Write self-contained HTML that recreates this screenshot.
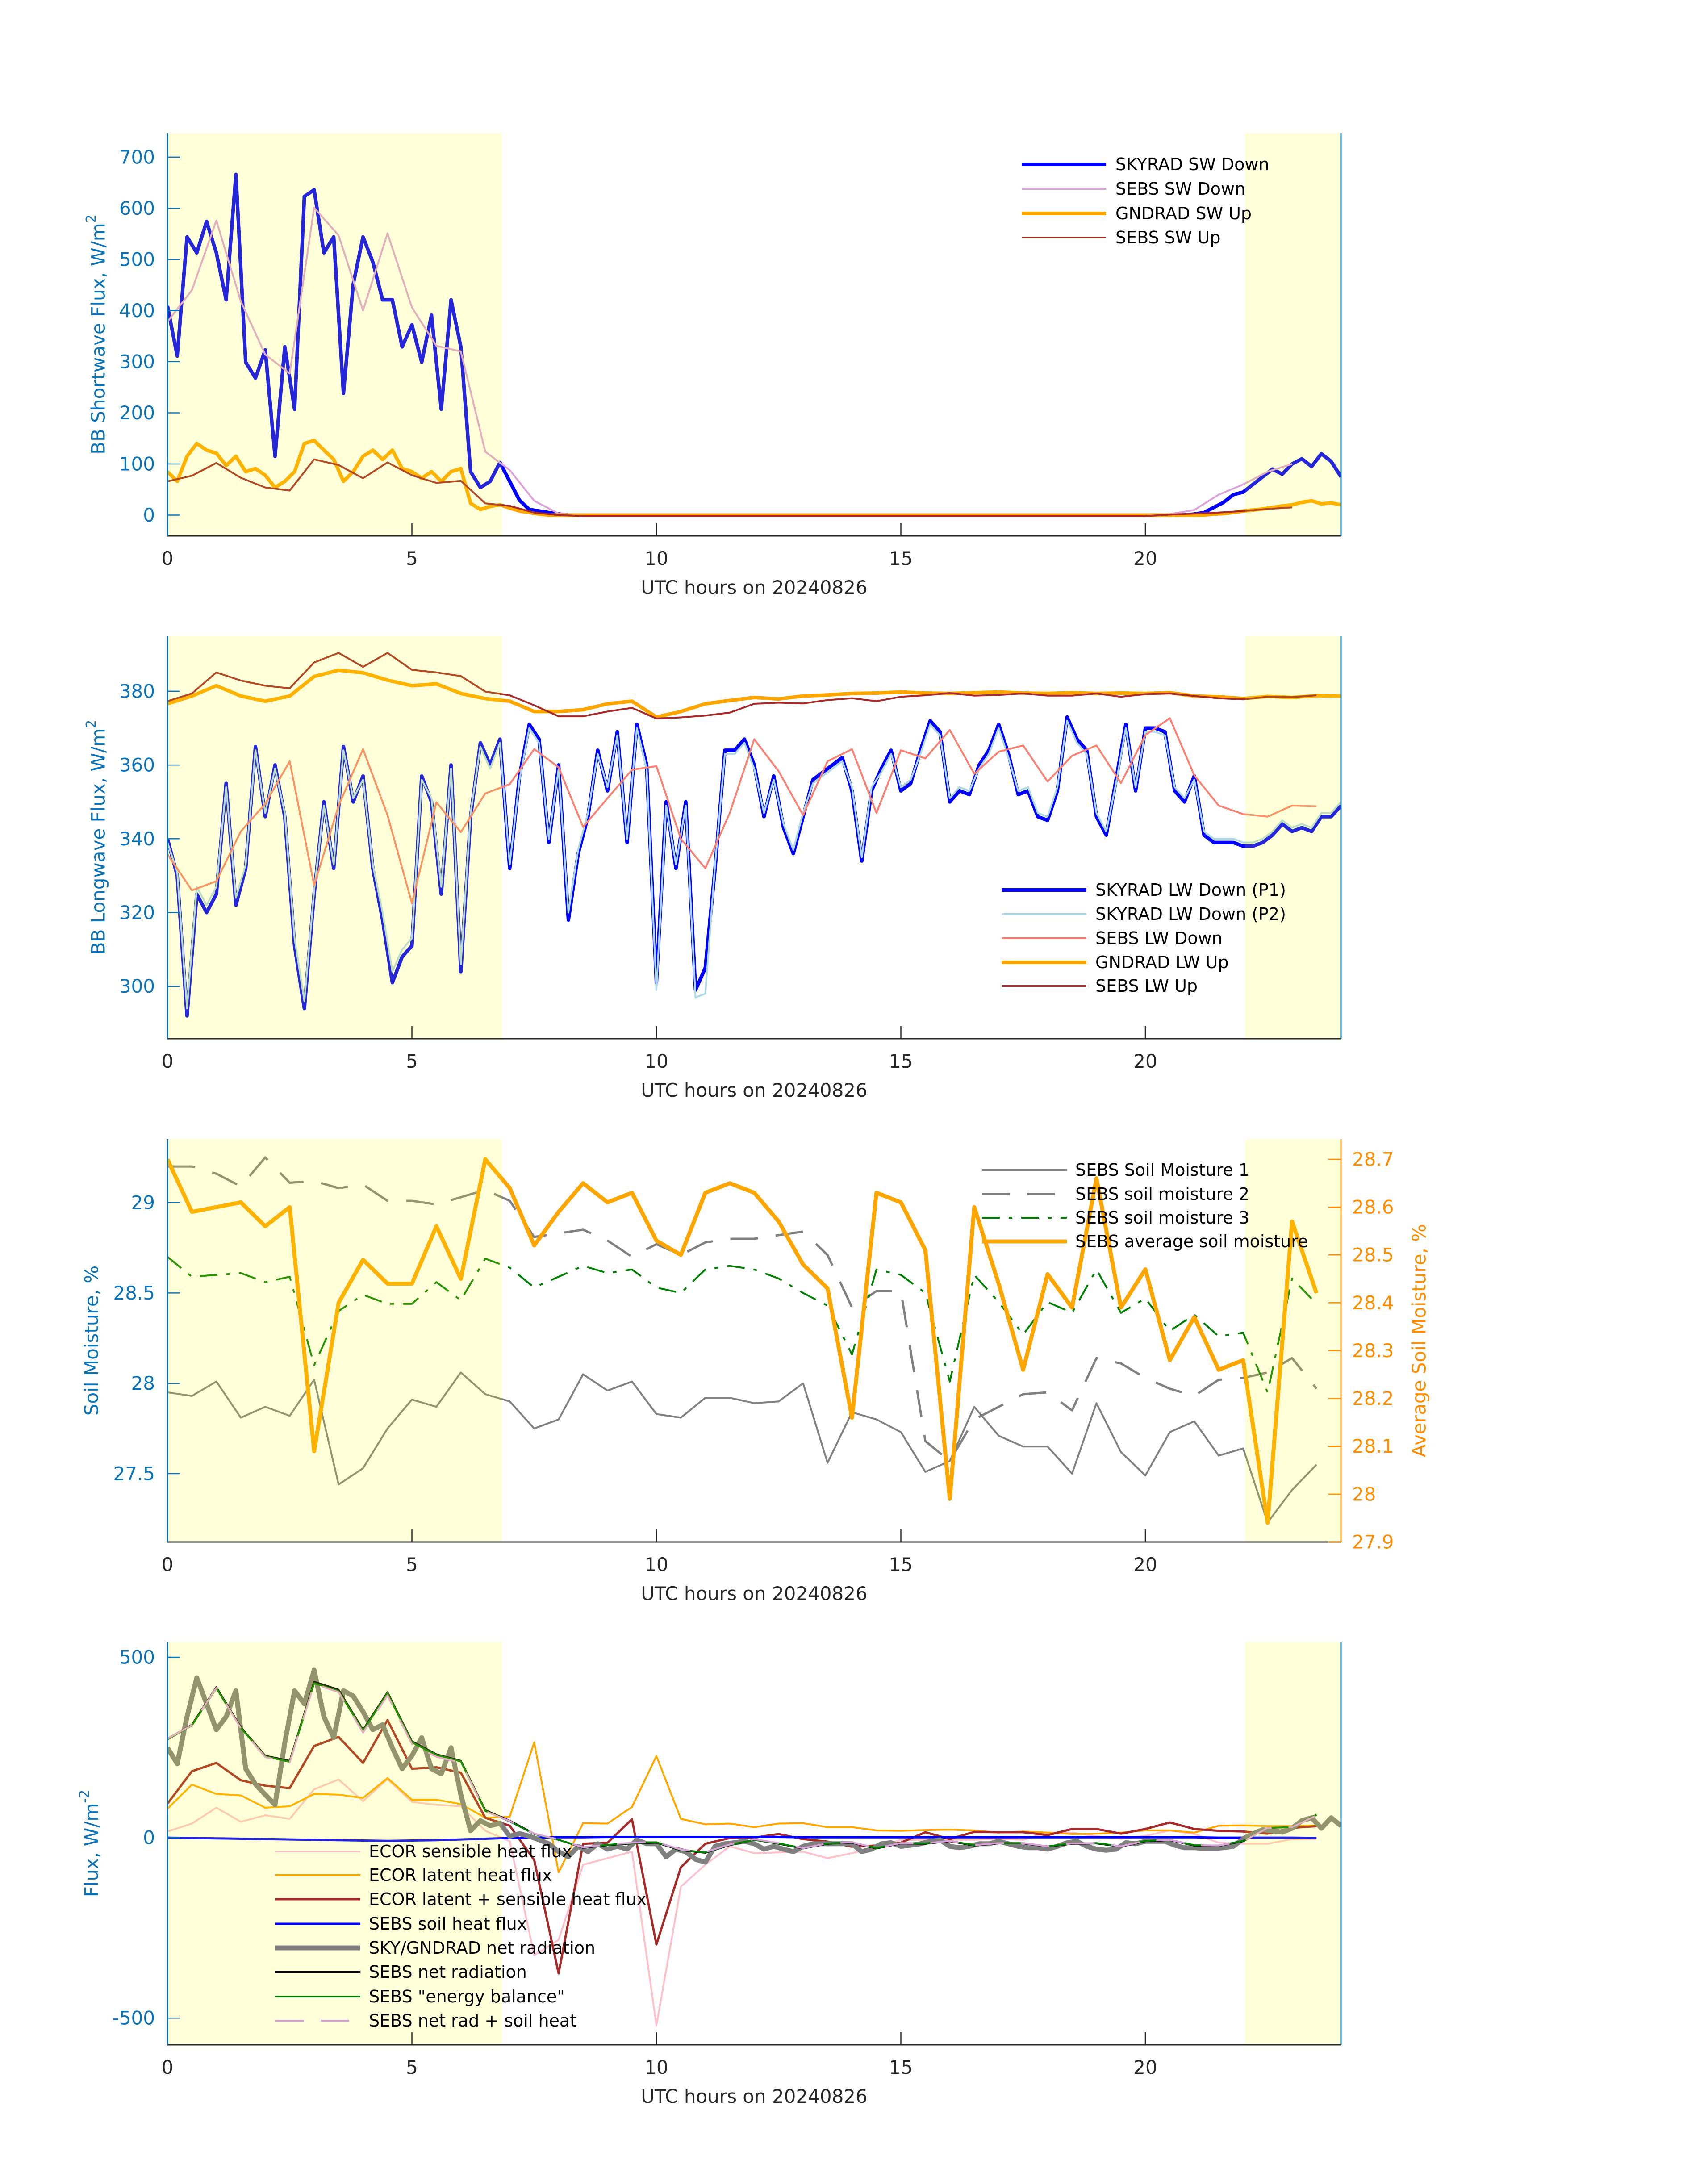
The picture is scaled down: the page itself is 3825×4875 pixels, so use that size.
<!DOCTYPE html>
<html><head><meta charset="utf-8"><style>
html,body{margin:0;padding:0;background:#fff;}
svg{display:block;font-family:"DejaVu Sans","Liberation Sans",sans-serif;}
</style></head>
<body>
<svg id="chart" xmlns="http://www.w3.org/2000/svg" width="3825" height="4875" viewBox="0 0 3825 4875">
<rect x="0" y="0" width="3825" height="4875" fill="#ffffff"/>
</svg>
<script>
// ---------- data ----------
const xTicks = [0,5,10,15,20];
const xTickLabels = ["0","5","10","15","20"];
const shadeStart = [0, 22.04];
const shadeEnd = [6.84, 24];
const fineStep = 0.2;
const halfStep = 0.5;

// Panel 1 (shortwave)
const p1Ticks = [0,100,200,300,400,500,600,700];
const swDownSky = [409,311,544,513,574,513,421,666,299,268,323,115,329,207,623,636,513,544,238,452,544,495,421,421,329,372,299,391,207,421,329,85,54,66,103,66,29,11,8,5,2,
0,0,0,0,0,0,0,0,0,0,0,0,0,0,0,0,
0,0,0,0,0,0,0,0,0,0,0,0,0,0,0,0,
0,0,0,0,0,0,0,0,0,0,0,0,0,0,0,0,
0,0,0,0,0,0,0,0,0,0,0,0,0,0,0,0,
2,5,15,25,40,45,60,75,90,80,100,110,95,120,105,75];
const swDownSebs = [378,440,576,418,314,277,601,547,400,551,406,331,320,124,88,28,3,
0,0,0,0,0,0,0,0,0,0,0,0,0,0,0,0,0,0,0,0,0,0,0,0,
2,10,40,60,85,100];
const swUpGnd = [85,66,115,140,127,121,97,115,85,91,78,54,66,85,140,146,127,109,66,85,115,127,109,127,91,85,72,85,66,85,91,23,11,17,20,14,8,5,2,
0,0,0,0,0,0,0,0,0,0,0,0,0,0,0,0,0,
0,0,0,0,0,0,0,0,0,0,0,0,0,0,0,0,0,
0,0,0,0,0,0,0,0,0,0,0,0,0,0,0,0,0,
0,0,0,0,0,0,0,0,0,0,0,0,0,0,0,0,0,
2,3,5,8,10,12,15,18,20,25,28,22,24,20];
const swUpSebs = [66,77,102,73,54,48,109,98,72,103,78,63,67,23,18,5,0,
-2,-2,-2,-2,-2,-2,-2,-2,-2,-2,-2,-2,-2,-2,-2,-2,-2,-2,-2,-2,-2,-2,-2,-2,
1,3,5,8,12,15];

// Panel 2 (longwave)
const p2Ticks = [300,320,340,360,380];
const lwDownP1 = [340,330,292,325,320,325,355,322,332,365,346,360,346,311,294,325,350,332,365,350,357,332,318,301,308,311,357,350,325,360,304,346,366,360,367,332,357,371,367,339,360,318,336,346,364,353,369,339,371,360,301,350,332,350,299,305,332,364,364,367,360,
346,357,343,336,346,356,358,360,362,353,334,353,359,364,353,355,364,372,369,350,353,352,360,364,371,363,352,353,346,345,353,373,367,364,346,341,356,371,353,370,370,369,353,350,357,341,339,339,339,338,338,339,341,344,342,343,342,346,346,349];
const lwDownP2 = [339,331,294,327,322,327,354,324,333,364,347,359,347,313,296,326,349,333,364,351,356,333,320,304,310,313,356,351,327,359,306,347,365,359,366,333,356,370,366,340,359,320,337,347,363,354,368,340,370,359,299,349,333,349,297,298,333,363,363,366,359,
347,356,344,337,347,355,357,359,361,354,335,354,358,363,354,356,363,371,368,351,354,353,359,363,370,362,353,354,347,346,354,372,366,363,347,342,355,370,354,369,369,368,354,351,356,342,340,340,340,339,339,340,342,345,343,344,343,347,347,350];
const lwDownSebs = [335.8,326,328.5,342,349.5,361,327.4,349,364.3,346.4,322.5,349.9,341.8,352.3,354.8,364.3,359.4,343.2,351,358.7,359.7,340,332,347,367,358.3,346.4,361,364.3,347,364,361.8,369.5,357.6,363.6,365.3,355.5,362.5,365.3,355.1,368.1,372.7,357.2,349,346.7,346,349,348.8];
const lwUpGnd = [376.6,378.7,381.5,378.7,377.3,378.7,384,385.7,385,383,381.5,382,379.4,378,377.3,374.5,374.5,375,376.6,377.3,373,374.5,376.6,377.5,378.3,377.9,378.7,379,379.4,379.5,379.8,379.5,379.4,379.6,379.8,379.5,379.4,379.6,379.4,379.5,379.4,379.6,378.7,378.5,378,378.6,378.3,378.8,378.7];
const lwUpSebs = [377.3,379.4,385.1,382.9,381.5,380.8,387.8,390.4,386.6,390.4,385.8,385.1,384.1,379.9,378.9,376.2,373.2,373.2,374.5,375.5,372.6,372.9,373.4,374.2,376.6,376.9,376.7,377.6,378.1,377.3,378.5,378.9,379.5,378.8,379,379.4,378.8,378.8,379.4,378.5,379.2,379.4,378.7,378.1,377.8,378.5,378.4,378.9];

// Panel 3 (soil moisture)
const p3LeftTicks = [27.5,28,28.5,29];
const p3LeftLabels = ["27.5","28","28.5","29"];
const p3RightTicks = [27.9,28,28.1,28.2,28.3,28.4,28.5,28.6,28.7];
const p3RightLabels = ["27.9","28","28.1","28.2","28.3","28.4","28.5","28.6","28.7"];
const soil1 = [27.95,27.93,28.01,27.81,27.87,27.82,28.02,27.44,27.53,27.75,27.91,27.87,28.06,27.94,27.90,27.75,27.80,28.05,27.96,28.01,27.83,27.81,27.92,27.92,
27.89,27.90,28.0,27.56,27.84,27.80,27.73,27.51,27.57,27.87,27.71,27.65,27.65,27.50,27.89,27.62,27.49,27.73,27.79,27.60,27.64,27.23,27.41,27.55];
const soil2 = [29.2,29.2,29.16,29.09,29.25,29.11,29.12,29.08,29.1,29.01,29.01,28.99,29.03,29.07,29.01,28.81,28.83,28.85,28.79,28.70,28.77,28.71,28.78,28.80,
28.8,28.82,28.84,28.71,28.42,28.51,28.51,27.68,27.57,27.80,27.87,27.94,27.95,27.85,28.14,28.11,28.03,27.97,27.93,28.02,28.03,28.06,28.14,27.97];
const soil3 = [28.7,28.59,28.60,28.61,28.56,28.59,28.10,28.40,28.49,28.44,28.44,28.56,28.46,28.69,28.64,28.53,28.59,28.65,28.61,28.63,28.53,28.50,28.63,28.65,
28.63,28.58,28.50,28.43,28.16,28.63,28.60,28.50,28.01,28.6,28.45,28.27,28.45,28.39,28.63,28.39,28.47,28.29,28.38,28.26,28.28,27.95,28.58,28.44];
const soilAvg = [28.70,28.59,28.60,28.61,28.56,28.60,28.09,28.40,28.49,28.44,28.44,28.56,28.45,28.70,28.64,28.52,28.59,28.65,28.61,28.63,28.53,28.50,28.63,28.65,
28.63,28.57,28.48,28.43,28.16,28.63,28.61,28.51,27.99,28.60,28.44,28.26,28.46,28.39,28.66,28.39,28.47,28.28,28.37,28.26,28.28,27.94,28.57,28.42];

// Panel 4 (fluxes)
const p4Ticks = [-500,0,500];
const p4Labels = ["-500","0","500"];
const ecorSens = [17,39,83,44,62,52,134,161,101,162,99,91,87,19,-10,-326,-283,-75,-57,-39,-520,-136,-75,-24,-43,
-41,-39,-57,-43,-29,-6,-6,-6,-6,-3,-6,14,14,4,-3,5,20,10,-14,-17,-17,-4,-4];
const ecorLat = [80,147,121,117,83,87,121,119,110,165,105,105,93,55,58,264,-96,40,39,85,226,52,37,39,29,
39,40,29,29,20,19,21,22,20,14,17,14,10,11,14,20,20,14,33,34,32,32,34];
const ecorSum = [94,184,207,159,144,137,254,279,207,326,191,195,180,55,33,-62,-376,-17,-14,51,-296,-82,-17,-1,0,
10,-4,-11,-25,-22,-14,15,-4,16,15,15,7,24,24,11,24,42,24,19,17,11,27,32];
const soilHeat = [0,-1,-2,-3,-4,-5,-6,-7,-8,-9,-8,-7,-5,-3,-1,0,1,1,2,2,2,2,2,2,2,2,1,1,1,1,1,1,1,1,1,1,1,1,1,1,1,1,1,0,0,0,0,-1];
const netRadSkyGnd = [249,205,335,443,371,299,335,407,191,148,119,91,263,407,371,464,335,277,407,392,349,299,313,249,191,227,277,191,177,249,119,19,47,33,40,4,11,4,-6,-17,-39,-53,-24,-39,-17,-32,-24,-32,-6,-17,-17,-53,-32,-39,-60,-68,-24,-17,-14,-10,-17,
-32,-24,-32,-39,-24,-17,-17,-17,-17,-17,-39,-32,-17,-14,-24,-21,-17,-10,-6,-24,-28,-24,-17,-17,-10,-17,-24,-28,-28,-32,-24,-14,-10,-24,-32,-35,-32,-14,-17,-10,-10,-10,-21,-28,-28,-30,-30,-28,-24,-3,11,22,19,15,26,47,55,26,55,33];
const netRadSebs = [274,313,417,306,227,213,432,410,299,403,267,231,213,76,47,11,-6,-28,-21,-16,-14,-35,-42,-21,-6,
-17,-30,-17,-14,-30,-16,-17,-10,-22,-16,-16,-25,-17,-16,-25,-10,-7,-22,-23,-10,27,29,63];
const energyBal = [272,311,414,304,225,210,428,406,296,400,264,229,211,74,45,10,-6,-27,-20,-15,-13,-34,-41,-20,-6,
-16,-29,-16,-13,-29,-15,-16,-9,-21,-15,-15,-24,-16,-15,-24,-9,-6,-21,-22,-9,27,29,64];
const netPlusSoil = [274,312,415,303,223,208,426,403,291,394,259,224,208,73,46,11,-5,-27,-19,-14,-12,-33,-40,-19,-4,
-15,-29,-16,-13,-29,-15,-16,-9,-21,-15,-15,-24,-16,-15,-24,-9,-6,-21,-22,-10,27,29,62];

// ---------- geometry ----------
const SVGNS = "http://www.w3.org/2000/svg";
const svg = document.getElementById('chart');
const X0 = 375, X1 = 3003;
function xScale(h){ return X0 + h*(X1-X0)/24; }
const panels = [
  {top:298, bot:1200, ymin:-40.6, ymax:747},
  {top:1424, bot:2326, ymin:285.8, ymax:395.0},
  {top:2551, bot:3453, ymin:27.122, ymax:29.351},
  {top:3677, bot:4579, ymin:-574, ymax:542}
];
const p3Right = {top:2551, bot:3453, ymin:27.9, ymax:28.742};
function yScale(p, v){ return p.bot - (v - p.ymin)/(p.ymax - p.ymin)*(p.bot - p.top); }
const BLUE = "#0b72b8", DARK = "#262626", ORANGE_AX = "#ff8c00";

function mk(tag, attrs, parent){
  const e = document.createElementNS(SVGNS, tag);
  for (const k in attrs) e.setAttribute(k, attrs[k]);
  (parent || svg).appendChild(e);
  return e;
}
function series(p, vals, step, style, name, clipId){
  let d = "";
  vals.forEach((v,i)=>{ d += (i? "L":"M") + xScale(i*step).toFixed(1) + "," + yScale(p, v).toFixed(1); });
  const el = mk('path', Object.assign({d:d, fill:"none", "stroke-linejoin":"round", "clip-path":"url(#"+clipId+")"}, style));
  
  
  return el;
}
function text(x, y, str, attrs, name){
  const t = mk('text', Object.assign({x:x, y:y}, attrs));
  t.textContent = str;
  
  
  return t;
}

const defs = mk('defs', {});
panels.forEach((p, k)=>{
  const cp = mk('clipPath', {id:'clip'+k}, defs);
  mk('rect', {x:X0, y:p.top, width:X1-X0, height:p.bot-p.top}, cp);
});

function shading(p, k){
  shadeStart.forEach((s, i)=>{
    const r = mk('rect', {x:xScale(s), y:p.top, width:xScale(shadeEnd[i])-xScale(s), height:p.bot-p.top, fill:"rgba(255,255,0,0.15)"});
    
    
  });
}

function xAxis(p, k){
  const ax = mk('line', {x1:X0, y1:p.bot, x2:X1, y2:p.bot, stroke:DARK, "stroke-width":3});
  
  
  xTicks.forEach((t,i)=>{
    const tk = mk('line', {x1:xScale(t), y1:p.bot, x2:xScale(t), y2:p.bot-28, stroke:DARK, "stroke-width":2.5});
    
    
    text(xScale(t), p.bot+65, xTickLabels[i], {"font-size":42, fill:DARK, "text-anchor":"middle"}, 'x-tick-label');
  });
  text((X0+X1)/2, p.bot+130, "UTC hours on 20240826", {"font-size":42, fill:DARK, "text-anchor":"middle"}, 'x-axis-title-' + (k+1));
}

function yAxisLeft(p, k, ticks, labels){
  const ax = mk('line', {x1:X0, y1:p.top, x2:X0, y2:p.bot, stroke:BLUE, "stroke-width":3});
  
  
  const rs = mk('line', {x1:X1, y1:p.top, x2:X1, y2:p.bot, stroke:(k===2?ORANGE_AX:BLUE), "stroke-width":3});
  
  
  ticks.forEach((t,i)=>{
    const y = yScale(p, t);
    const tk = mk('line', {x1:X0, y1:y, x2:X0+28, y2:y, stroke:BLUE, "stroke-width":2.5});
    
    
    text(347, y, labels[i], {"font-size":42, fill:BLUE, "text-anchor":"end", "dominant-baseline":"central"}, 'y-tick-label');
  });
}

function ylabel(x, cy, main, sup, color, name){
  const t = mk('text', {x:0, y:0, transform:"translate("+x+","+cy+") rotate(-90)", "font-size":42, fill:color, "text-anchor":"middle", "dominant-baseline":"central"});
  
  
  t.appendChild(document.createTextNode(main));
  if (sup){
    const s = mk('tspan', {"font-size":30, dy:-16}, t);
    s.textContent = sup;
  }
}

function legend(x1, x2, tx, rows, entries, pk){
  entries.forEach((e,i)=>{
    const y = rows[i];
    const ln = mk('line', Object.assign({x1:x1, y1:y, x2:x2, y2:y}, e.style));
    
    
    text(tx, y, e.label, {"font-size":38, fill:"#000", "dominant-baseline":"central"}, 'legend-entry-' + pk + '-' + (i+1));
  });
}

// ---------- Panel 1 ----------
(function(){
  const p = panels[0], k = 0;
  const sDown = {stroke:"#0000ff", "stroke-width":8};
  const sSebsDown = {stroke:"#dda0dd", "stroke-width":4};
  const sGnd = {stroke:"#ffa500", "stroke-width":8};
  const sSebsUp = {stroke:"#a52a2a", "stroke-width":4};
  series(p, swDownSky, fineStep, sDown, 'skyrad-sw-down-line', 'clip0');
  series(p, swDownSebs, halfStep, sSebsDown, 'sebs-sw-down-line', 'clip0');
  series(p, swUpGnd, fineStep, sGnd, 'gndrad-sw-up-line', 'clip0');
  series(p, swUpSebs, halfStep, sSebsUp, 'sebs-sw-up-line', 'clip0');
  shading(p, k);
  xAxis(p, k);
  yAxisLeft(p, k, p1Ticks, p1Ticks.map(String));
  ylabel(220, (p.top+p.bot)/2, "BB Shortwave Flux, W/m", "2", BLUE, 'y-axis-title-1');
  legend(2288, 2477, 2498, [368,423,478,532], [
    {label:"SKYRAD SW Down", style:sDown},
    {label:"SEBS SW Down", style:sSebsDown},
    {label:"GNDRAD SW Up", style:sGnd},
    {label:"SEBS SW Up", style:sSebsUp}], 1);
})();

// ---------- Panel 2 ----------
(function(){
  const p = panels[1], k = 1;
  const sP1 = {stroke:"#0000ff", "stroke-width":8};
  const sP2 = {stroke:"#add8e6", "stroke-width":4};
  const sSebsDown = {stroke:"#fa8072", "stroke-width":4};
  const sGnd = {stroke:"#ffa500", "stroke-width":8};
  const sSebsUp = {stroke:"#a52a2a", "stroke-width":4};
  series(p, lwDownP1, fineStep, sP1, 'skyrad-lw-down-p1-line', 'clip1');
  series(p, lwDownP2, fineStep, sP2, 'skyrad-lw-down-p2-line', 'clip1');
  series(p, lwDownSebs, halfStep, sSebsDown, 'sebs-lw-down-line', 'clip1');
  series(p, lwUpGnd, halfStep, sGnd, 'gndrad-lw-up-line', 'clip1');
  series(p, lwUpSebs, halfStep, sSebsUp, 'sebs-lw-up-line', 'clip1');
  shading(p, k);
  xAxis(p, k);
  yAxisLeft(p, k, p2Ticks, p2Ticks.map(String));
  ylabel(220, (p.top+p.bot)/2, "BB Longwave Flux, W/m", "2", BLUE, 'y-axis-title-2');
  legend(2243, 2433, 2453, [1993,2047,2101,2155,2208], [
    {label:"SKYRAD LW Down (P1)", style:sP1},
    {label:"SKYRAD LW Down (P2)", style:sP2},
    {label:"SEBS LW Down", style:sSebsDown},
    {label:"GNDRAD LW Up", style:sGnd},
    {label:"SEBS LW Up", style:sSebsUp}], 2);
})();

// ---------- Panel 3 ----------
(function(){
  const p = panels[2], k = 2;
  const s1 = {stroke:"#808080", "stroke-width":4};
  const s2 = {stroke:"#808080", "stroke-width":5, "stroke-dasharray":"62,40"};
  const s3 = {stroke:"#008000", "stroke-width":4, "stroke-dasharray":"40,20,8,20"};
  const sAvg = {stroke:"#ffa500", "stroke-width":9};
  series(p, soil1, halfStep, s1, 'soil-moisture-1-line', 'clip2');
  series(p, soil2, halfStep, s2, 'soil-moisture-2-line', 'clip2');
  series(p, soil3, halfStep, s3, 'soil-moisture-3-line', 'clip2');
  series(p3Right, soilAvg, halfStep, sAvg, 'average-soil-moisture-line', 'clip2');
  shading(p, k);
  xAxis(p, k);
  yAxisLeft(p, k, p3LeftTicks, p3LeftLabels);
  p3RightTicks.forEach((t,i)=>{
    const y = yScale(p3Right, t);
    const tk = mk('line', {x1:X1, y1:y, x2:X1-28, y2:y, stroke:ORANGE_AX, "stroke-width":2.5});
    
    
    text(3028, y, p3RightLabels[i], {"font-size":42, fill:ORANGE_AX, "dominant-baseline":"central"}, 'right-y-tick-label');
  });
  ylabel(205, (p.top+p.bot)/2, "Soil Moisture, %", null, BLUE, 'y-axis-title-3');
  ylabel(3178, (p.top+p.bot)/2, "Average Soil Moisture, %", null, ORANGE_AX, 'right-y-axis-title-3');
  legend(2199, 2389, 2408, [2620,2674,2727,2780], [
    {label:"SEBS Soil Moisture 1", style:s1},
    {label:"SEBS soil moisture 2", style:s2},
    {label:"SEBS soil moisture 3", style:s3},
    {label:"SEBS average soil moisture", style:sAvg}], 3);
})();

// ---------- Panel 4 ----------
(function(){
  const p = panels[3], k = 3;
  const sSens = {stroke:"#ffc0cb", "stroke-width":4};
  const sLat = {stroke:"#ffa500", "stroke-width":4};
  const sSum = {stroke:"#a52a2a", "stroke-width":5};
  const sSoil = {stroke:"#0000ff", "stroke-width":5};
  const sNetSG = {stroke:"#808080", "stroke-width":11};
  const sNet = {stroke:"#000000", "stroke-width":4};
  const sBal = {stroke:"#008000", "stroke-width":4};
  const sNS = {stroke:"#dda0dd", "stroke-width":4, "stroke-dasharray":"64,38"};
  series(p, ecorSens, halfStep, sSens, 'ecor-sensible-heat-line', 'clip3');
  series(p, ecorLat, halfStep, sLat, 'ecor-latent-heat-line', 'clip3');
  series(p, ecorSum, halfStep, sSum, 'ecor-latent-plus-sensible-line', 'clip3');
  series(p, soilHeat, halfStep, sSoil, 'sebs-soil-heat-line', 'clip3');
  series(p, netRadSkyGnd, fineStep, sNetSG, 'sky-gndrad-net-radiation-line', 'clip3');
  series(p, netRadSebs, halfStep, sNet, 'sebs-net-radiation-line', 'clip3');
  series(p, energyBal, halfStep, sBal, 'sebs-energy-balance-line', 'clip3');
  series(p, netPlusSoil, halfStep, sNS, 'sebs-net-rad-plus-soil-line', 'clip3');
  shading(p, k);
  xAxis(p, k);
  yAxisLeft(p, k, p4Ticks, p4Labels);
  ylabel(205, (p.top+p.bot)/2, "Flux, W/m", "-2", BLUE, 'y-axis-title-4');
  legend(616, 807, 826, [4146,4199,4253,4308,4362,4416,4471,4525], [
    {label:"ECOR sensible heat flux", style:sSens},
    {label:"ECOR latent heat flux", style:sLat},
    {label:"ECOR latent + sensible heat flux", style:sSum},
    {label:"SEBS soil heat flux", style:sSoil},
    {label:"SKY/GNDRAD net radiation", style:sNetSG},
    {label:"SEBS net radiation", style:sNet},
    {label:"SEBS \"energy balance\"", style:sBal},
    {label:"SEBS net rad + soil heat", style:sNS}], 4);
})();
</script>
</body></html>
